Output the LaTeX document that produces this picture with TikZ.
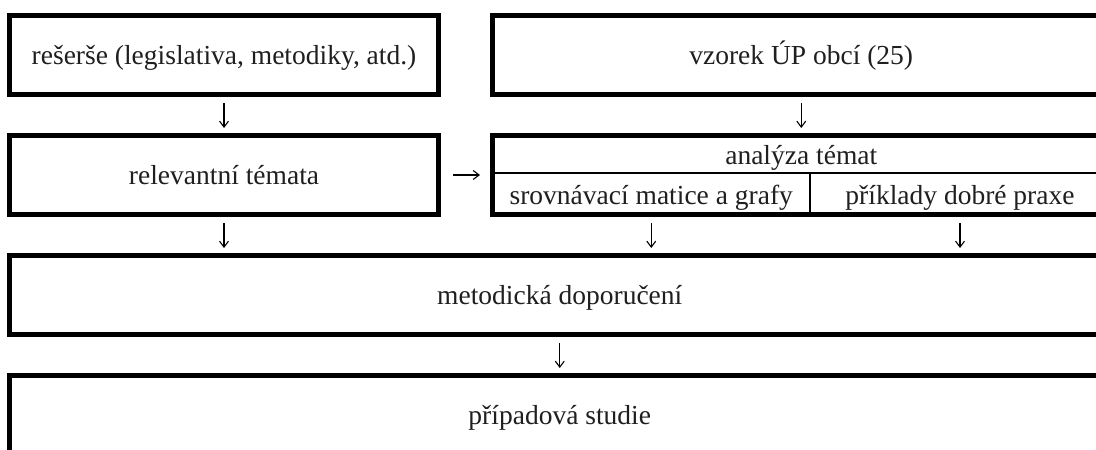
\documentclass[tikz,border=0pt]{standalone}
\usepackage{fontspec}
\setmainfont{Liberation Serif}
\usetikzlibrary{arrows.meta}
\begin{document}
\begin{tikzpicture}[x=1pt,y=-1pt,
  txt/.style={font=\fontsize{27.5}{33}\selectfont, text=black!88},
  box/.style={draw, line width=5pt, inner sep=0pt, txt,
    text height=18pt, text depth=0pt, minimum height=79pt},
  cell/.style={txt, inner sep=0pt, anchor=base},
  divider/.style={line width=2pt},
  arr/.style={line width=1.1pt, -{Straight Barb[length=6pt,width=9pt]},
    shorten <=6pt, shorten >=5pt},
  harr/.style={line width=1.1pt, -{Straight Barb[length=6pt,width=9pt]},
    shorten <=12pt, shorten >=10pt}]
\useasboundingbox (0,0) rectangle (1096,450);
\clip (0,0) rectangle (1096,450);
\fill[white] (0,0) rectangle (1096,450);

% row 1
\node[box, minimum width=429pt] (b1) at (224,55) {rešerše (legislativa, metodiky, atd.)};
\node[box, minimum width=617.5pt] (b2) at (801.25,55) {vzorek ÚP obcí (25)};

% row 2
\node[box, minimum width=429pt] (b3) at (224,175) {relevantní témata};
\node[box, minimum width=617.5pt] (an) at (801.25,175) {};
\coordinate (dl) at (492.5,173);
\coordinate (dr) at (1110,173);
\coordinate (vt) at (810,173);
\coordinate (vb) at (810,214.5);
\draw[divider] (dl) -- (dr);
\draw[divider] (vt) -- (vb);
\node[cell] (ant) at (801.25,164) {analýza témat};
\node[cell] (srov) at (651.25,204) {srovnávací matice a grafy};
\node[cell] (prik) at (960,204) {příklady dobré praxe};

% row 3 and 4
\node[box, minimum width=1100.5pt] (met) at (559.75,295) {metodická doporučení};
\node[box, minimum width=1100.5pt] (pr) at (559.75,415) {případová studie};

% connectors
\draw[arr] (b1.south) -- (b3.north);
\draw[arr] (b2.south) -- (an.north);
\draw[harr] (b3.east) -- (an.west);
\draw[arr] (b3.south) -- (b3.south |- met.north);
\draw[arr] (srov.south |- an.south) -- (srov.south |- met.north);
\draw[arr] (prik.south |- an.south) -- (prik.south |- met.north);
\draw[arr] (met.south) -- (pr.north);
\end{tikzpicture}
\end{document}
